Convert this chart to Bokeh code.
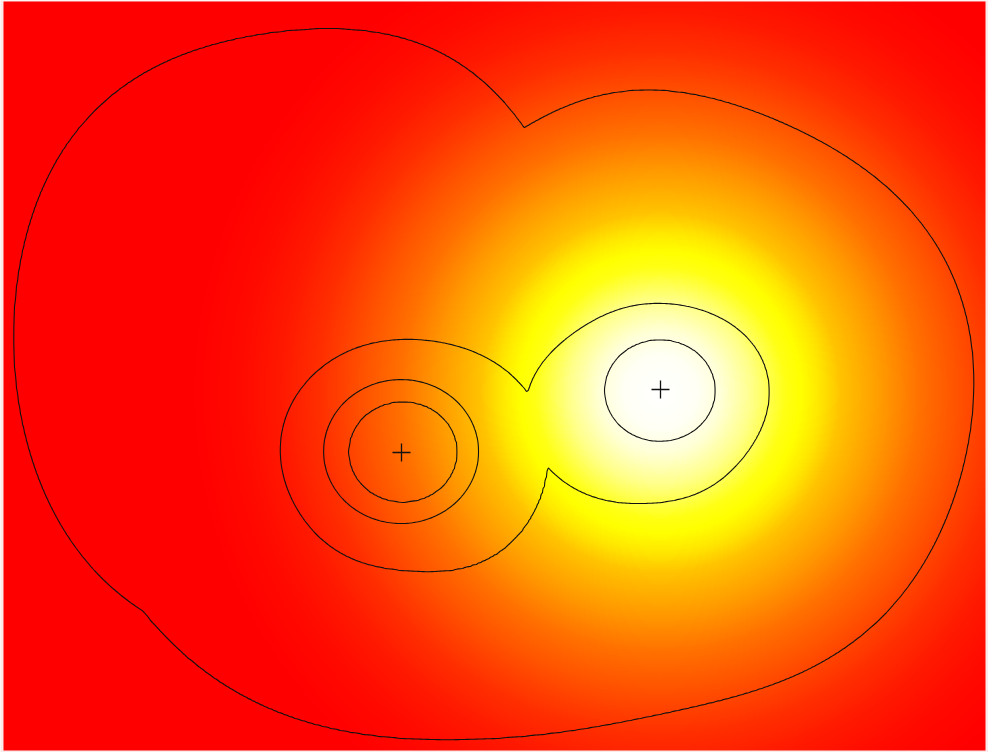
import numpy as np
from bokeh.plotting import figure
from bokeh.models import Range1d, LinearColorMapper
from bokeh.embed import file_html
from bokeh.resources import INLINE

# reference frame in pixels (y grows downward); display coordinate Y = FRAME_H - y
FRAME_W, FRAME_H = 988, 752
X0, X1 = 0, 988
Y0, Y1 = 0, 752
# painted area of the colour field (reference pixels)
IMG_LEFT, IMG_RIGHT, IMG_TOP, IMG_BOTTOM = 3, 985, 1, 750

contour_levels = [1, 2, 3, 4]

# the two sources (marked with +)
source_x = [401, 660]
source_y = [452, 389]

# colour field: glow around the bright source, channel values vs distance
glow_x, glow_y = 660, 392
glow_r = [0, 35, 60, 90, 125, 140, 160, 180, 220, 260, 300, 340, 380, 420, 470]
glow_g = [255, 255, 255, 255, 255, 255, 230, 195, 155, 112, 80, 48, 25, 10, 0]
glow_b = [255, 245, 215, 140, 20, 0, 0, 0, 0, 0, 0, 0, 0, 0, 0]

# elliptical level shapes: level, centre, semi-axes
left_ell_level = [4, 3]
left_ell_cx = [402.5, 400.5]
left_ell_cy = [451.5, 451.0]
left_ell_ax = [54.5, 77.5]
left_ell_ay = [50.5, 72.0]

right_ell_level = [3]
right_ell_cx = [659.5]
right_ell_cy = [390.0]
right_ell_ax = [55.5]
right_ell_ay = [51.0]

# polar level shapes: radius every 30 degrees (clockwise on screen from +x)
left_l2_center = (410, 456)
left_l2_radii = [138, 135, 126, 115, 118, 124, 130, 129, 122, 117, 122, 133]
right_l2_center = (650, 404)
right_l2_radii = [118, 107, 101, 99, 108, 121, 125, 111, 101, 101, 108, 119]
left_l1_center = (318, 345)
left_l1_radii = [312, 312, 312, 312, 318, 312, 305, 318, 323, 317, 313, 290]
right_l1_center = (560, 430)
right_l1_radii = [410, 372, 313, 302, 354, 440, 500, 460, 300, 322, 372, 416]


def trig_radius(radii, theta):
    r = np.asarray(radii, float)
    n = len(r)
    c = np.fft.rfft(r) / n
    out = np.full(theta.shape, c[0].real)
    for k in range(1, n // 2):
        out += 2 * (c[k] * np.exp(1j * k * theta)).real
    out += c[n // 2].real * np.cos(n // 2 * theta)
    return out


def polar_norm(xp, yp, center, radii):
    dx = xp - center[0]
    dy = yp - center[1]
    return np.hypot(dx, dy) / trig_radius(radii, np.arctan2(dy, dx))


def ell_norm(xp, yp, cx, cy, ax, ay):
    return np.hypot((xp - cx) / ax, (yp - cy) / ay)


def source_field(norms, levels):
    with np.errstate(divide="ignore", invalid="ignore"):
        A = np.where(norms[0] <= 1, levels[0] + 0.9 * (1 - norms[0]), np.nan)
        for i in range(1, len(norms)):
            ro, ri = norms[i], norms[i - 1]
            vo, vi = levels[i], levels[i - 1]
            band = (ro <= 1) & (ri > 1)
            val = vo + (vi - vo) * (1 - ro) / ((1 - ro) + (ri - 1))
            A = np.where(band, val, A)
        A = np.where(norms[-1] > 1, levels[-1] / norms[-1], A)
    return np.nan_to_num(A, nan=0.0)


step = 2.0
xs = np.arange(X0, X1 + step, step)
ys = np.arange(Y0, Y1 + step, step)
XG, YG = np.meshgrid(xs, ys)
XP, YP = XG, FRAME_H - YG

left_norms = [ell_norm(XP, YP, left_ell_cx[i], left_ell_cy[i], left_ell_ax[i], left_ell_ay[i])
              for i in range(len(left_ell_level))]
left_norms += [polar_norm(XP, YP, left_l2_center, left_l2_radii),
               polar_norm(XP, YP, left_l1_center, left_l1_radii)]
left_levels = left_ell_level + [2, 1]

right_norms = [ell_norm(XP, YP, right_ell_cx[0], right_ell_cy[0], right_ell_ax[0], right_ell_ay[0])]
right_norms += [polar_norm(XP, YP, right_l2_center, right_l2_radii),
                polar_norm(XP, YP, right_l1_center, right_l1_radii)]
right_levels = right_ell_level + [2, 1]

F = np.fmax(source_field(left_norms, left_levels), source_field(right_norms, right_levels))

# colour image over the painted area
nx = (IMG_RIGHT - IMG_LEFT) // 2
ny = (IMG_BOTTOM - IMG_TOP) // 2
img_x = IMG_LEFT + (np.arange(nx) + 0.5) * (IMG_RIGHT - IMG_LEFT) / nx
img_Y = (FRAME_H - IMG_BOTTOM) + (np.arange(ny) + 0.5) * (IMG_BOTTOM - IMG_TOP) / ny
IX, IY = np.meshgrid(img_x, img_Y)
dist = np.hypot(IX - glow_x, (FRAME_H - IY) - glow_y)
rr = np.linspace(0, glow_r[-1], 256)
gg = np.interp(rr, glow_r, glow_g)
bb = np.interp(rr, glow_r, glow_b)
palette = ["#ff%02x%02x" % (int(round(g)), int(round(b))) for g, b in zip(gg, bb)]
mapper = LinearColorMapper(palette=palette, low=0, high=glow_r[-1], high_color="#ff0000")

p = figure(width=FRAME_W, height=FRAME_H, x_range=Range1d(X0, X1), y_range=Range1d(Y0, Y1),
           output_backend="svg", toolbar_location=None, min_border=0,
           x_axis_location=None, y_axis_location=None)
p.xgrid.visible = False
p.ygrid.visible = False
p.outline_line_color = None
p.background_fill_color = "#fbeaea"
p.border_fill_color = "#ffffff"

p.image(image=[dist], x=IMG_LEFT, y=FRAME_H - IMG_BOTTOM, dw=IMG_RIGHT - IMG_LEFT,
        dh=IMG_BOTTOM - IMG_TOP, color_mapper=mapper)
p.contour(xs, ys, F, levels=contour_levels, line_color="#111111", line_width=1.1)
p.scatter(x=source_x, y=[FRAME_H - v for v in source_y], marker="cross", size=18,
          line_color="#111111", line_width=1.3)

open("out.html", "w").write(file_html(p, INLINE))
